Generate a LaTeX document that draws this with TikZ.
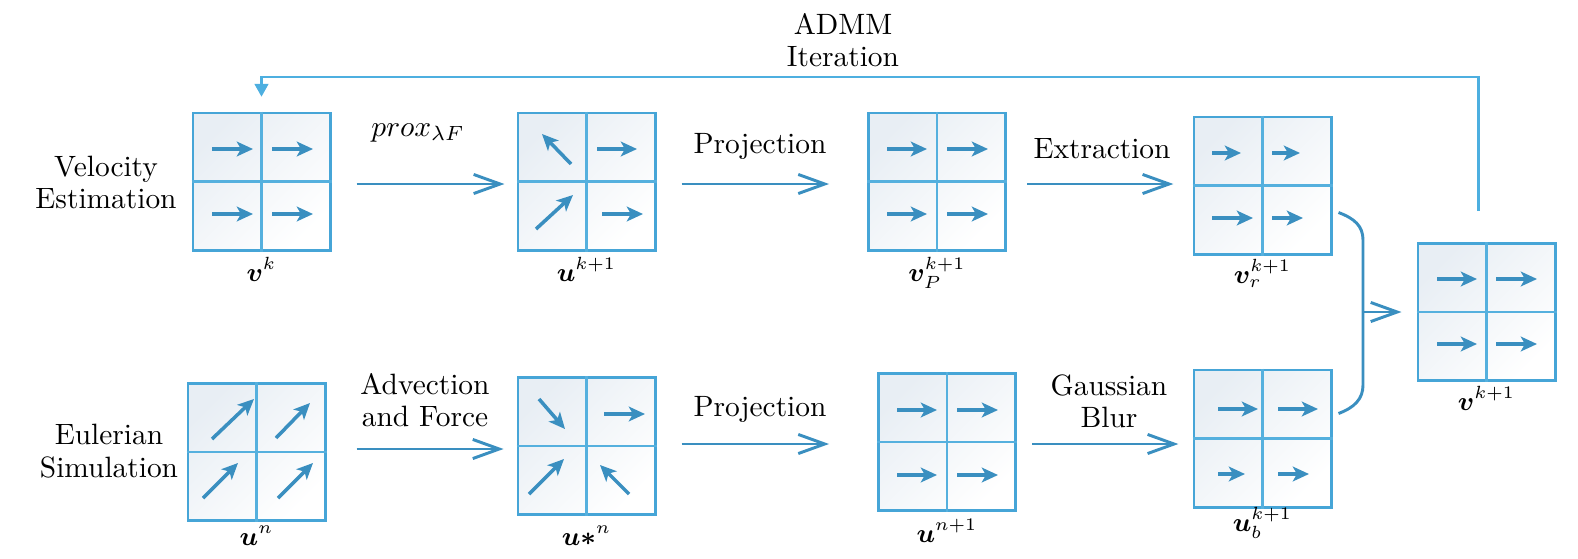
\documentclass[tikz,border=0pt]{standalone}
\usepackage{amsmath,bm}
\usetikzlibrary{arrows.meta}
\definecolor{gridc}{HTML}{46A5D7}
\definecolor{crossc}{HTML}{55B0DE}
\definecolor{arrc}{HTML}{3A8FC0}
\definecolor{fbc}{HTML}{4DAFE0}
\definecolor{fillc}{HTML}{E8EEF4}
\tikzset{
 cell/.style={draw=gridc, line width=1pt, minimum size=46.6pt, inner sep=0pt, top color=fillc, bottom color=white, shading angle=45},
 cross/.style={draw=crossc, line width=0.9pt},
 vec/.style={draw=arrc, line width=1.2pt, -{Stealth[length=5.5pt,width=5pt,inset=1.4pt]}},
 conn/.style={draw=arrc, line width=1pt, -{Straight Barb[length=9pt,width=6.5pt,line width=1pt]}},
 brace/.style={draw=arrc, line width=1pt},
 fb/.style={draw=fbc, line width=1pt, -{Triangle[length=4.4pt,width=4.6pt]}},
 txt/.style={font=\fontsize{10}{11}\selectfont, align=center, inner sep=0pt},
 lab/.style={font=\small, anchor=base, inner sep=0pt},
}
\begin{document}
\begin{tikzpicture}[x=0.34pt,y=-0.34pt]
\useasboundingbox (0,0) rectangle (1578,558);
% grids
\node[cell] (g1) at (261.5,181.5) {};
\node[cell] (g2) at (586.5,181.5) {};
\node[cell] (g3) at (937,181.5) {};
\node[cell] (g4) at (1262.5,185.5) {};
\node[cell] (g5) at (1486.5,312) {};
\node[cell] (g6) at (1262.5,438.5) {};
\node[cell] (g7) at (256.5,452) {};
\node[cell] (g8) at (586.5,446) {};
\node[cell] (g9) at (947,442) {};
\foreach \g in {g1,g2,g3,g4,g5,g6,g7,g8,g9}{
  \draw[cross] (\g.north) -- (\g.south) (\g.west) -- (\g.east);
}
% inner vectors
\draw[vec] (212,149) -- (253,149);
\draw[vec] (272,149) -- (313,149);
\draw[vec] (212,214) -- (253,214);
\draw[vec] (272,214) -- (313,214);
\draw[vec] (571,164) -- (542,134);
\draw[vec] (597,149) -- (637,149);
\draw[vec] (536,229) -- (573,195);
\draw[vec] (602,214) -- (643,214);
\draw[vec] (887,149) -- (927,149);
\draw[vec] (947,149) -- (988,149);
\draw[vec] (887,214) -- (927,214);
\draw[vec] (947,214) -- (988,214);
\draw[vec] (1212,153) -- (1241,153);
\draw[vec] (1272,153) -- (1300,153);
\draw[vec] (1212,218) -- (1253,218);
\draw[vec] (1272,218) -- (1303,218);
\draw[vec] (1437,279) -- (1477,279);
\draw[vec] (1496,279) -- (1537,279);
\draw[vec] (1437,344) -- (1477,344);
\draw[vec] (1496,344) -- (1537,344);
\draw[vec] (1218,409) -- (1258,409);
\draw[vec] (1278,409) -- (1318,409);
\draw[vec] (1218,474) -- (1245,474);
\draw[vec] (1278,474) -- (1309,474);
\draw[vec] (212,439) -- (254,399);
\draw[vec] (276,438) -- (310,403);
\draw[vec] (203,498) -- (238,463);
\draw[vec] (278,498) -- (313,463);
\draw[vec] (539,399) -- (565,429);
\draw[vec] (604,414) -- (645,414);
\draw[vec] (529,494) -- (564,459);
\draw[vec] (629,494) -- (600,465);
\draw[vec] (897,410) -- (937,410);
\draw[vec] (957,410) -- (998,410);
\draw[vec] (897,475) -- (937,475);
\draw[vec] (957,475) -- (998,475);
% labels under grids
\node[lab] (l1) at (261.5,281) {$\bm{v}^{k}$};
\node[lab] (l2) at (586.5,281) {$\bm{u}^{k+1}$};
\node[lab] (l3) at (937,281) {$\bm{v}_{P}^{k+1}$};
\node[lab] (l4) at (1262.5,283) {$\bm{v}_{r}^{k+1}$};
\node[lab] (l5) at (1486.5,410) {$\bm{v}^{k+1}$};
\node[lab] (l6) at (1262.5,531) {$\bm{u}_{b}^{k+1}$};
\node[lab] (l7) at (256.5,545) {$\bm{u}^{n}$};
\node[lab] (l8) at (586.5,545) {$\bm{u}{\bm{*}}^{n}$};
\node[lab] (l9) at (947,542) {$\bm{u}^{n+1}$};
% texts
\node[txt] (t1) at (106,182.5) {Velocity\\Estimation};
\node[txt] (t2) at (109,451) {Eulerian\\Simulation};
\node[txt] (t3) at (843,40) {ADMM\\Iteration};
\node[txt, anchor=base] (t4) at (418,136) {$prox_{\lambda F}$};
\node[txt, anchor=base] (t5) at (760,153) {Projection};
\node[txt, anchor=base] (t6) at (1102,158) {Extraction};
\node[txt] (t7) at (425,400) {Advection\\and Force};
\node[txt, anchor=base] (t8) at (760,416) {Projection};
\node[txt] (t9) at (1109,401) {Gaussian\\Blur};
% connectors
\draw[conn, shorten <=8.5pt, shorten >=4.1pt] (g1.east |- 0,184) -- (g2.west |- 0,184);
\draw[conn, shorten <=8.5pt, shorten >=12.9pt] (g2.east |- 0,184) -- (g3.west |- 0,184);
\draw[conn, shorten <=6.8pt, shorten >=6.5pt] (g3.east |- 0,184) -- (g4.west |- 0,184);
\draw[conn, shorten <=10.2pt, shorten >=4.4pt] (g7.east |- 0,449) -- (g8.west |- 0,449);
\draw[conn, shorten <=8.5pt, shorten >=16.3pt] (g8.east |- 0,444) -- (g9.west |- 0,444);
\draw[conn, shorten <=5.1pt, shorten >=4.8pt] (g9.east |- 0,444) -- (g6.west |- 0,444);
% brace
\coordinate (bt) at ([shift={(6,27)}]g4.east);
\coordinate (bb) at ([shift={(6,-25)}]g6.east);
\coordinate (bm) at (1363,312);
\draw[brace] (bt) .. controls +(16,6) and +(0,-14) .. (1363,240) -- (1363,385) .. controls +(0,14) and +(16,-6) .. (bb);
\draw[conn, shorten >=5.1pt] (bm) -- (g5.west);
% feedback
\coordinate (fbY) at (0,77);
\draw[fb, shorten >=5pt] ([shift={(-8,-31)}]g5.north) |- (g1.north |- fbY) -- (g1.north);
\end{tikzpicture}
\end{document}
